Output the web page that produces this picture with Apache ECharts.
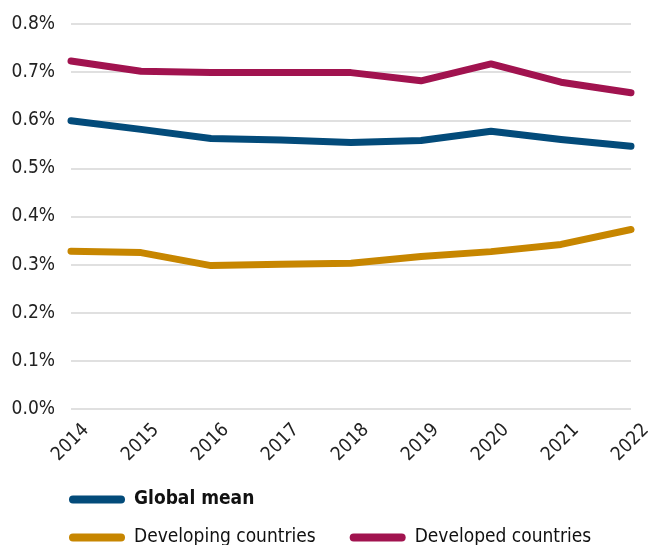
<!DOCTYPE html>
<html>
<head>
<meta charset="utf-8">
<script src="https://cdn.jsdelivr.net/npm/echarts@6/dist/echarts.min.js"></script>
<style>
  html, body { margin: 0; padding: 0; background: #ffffff; }
  #chart { width: 648px; height: 545px; }
</style>
</head>
<body>
<div id="chart"></div>
<script>
// Years on the horizontal axis
const years = ['2014', '2015', '2016', '2017', '2018', '2019', '2020', '2021', '2022'];

// Shares in percent
const globalMean = [0.599, 0.581, 0.562, 0.559, 0.554, 0.558, 0.577, 0.560, 0.546];
const developing = [0.328, 0.325, 0.298, 0.301, 0.303, 0.317, 0.327, 0.342, 0.373];
const developed  = [0.723, 0.702, 0.699, 0.699, 0.699, 0.682, 0.717, 0.679, 0.657];

const FONT = '"Liberation Sans Narrow", "DejaVu Sans Condensed", "Roboto Condensed", sans-serif';
const pill = 'path://M4,0 H52 A4,4 0 0 1 52,8 H4 A4,4 0 0 1 4,0 Z';

const colors = { global: '#034b7a', developing: '#c78600', developed: '#a1134f' };

function lineSeries(name, data, color) {
  return {
    name: name,
    type: 'line',
    data: data,
    symbol: 'none',
    smooth: false,
    itemStyle: { color: color },
    lineStyle: { color: color, width: 7, cap: 'round', join: 'round' }
  };
}

const chart = echarts.init(document.getElementById('chart'), null, { renderer: 'canvas' });
chart.setOption({
  animation: false,
  textStyle: { fontFamily: FONT },
  grid: { left: 71, right: 17, top: 24, bottom: 136, containLabel: false, outerBoundsMode: 'none' },
  xAxis: {
    type: 'category',
    data: years,
    boundaryGap: false,
    axisLine: { show: false },
    axisTick: { show: false },
    axisLabel: {
      rotate: 45,
      margin: 33,
      // nudge the slanted years forward and down so they sit under each tick
      padding: [42, -21, 0, 0],
      fontSize: 19,
      color: '#222222',
      fontFamily: FONT,
      hideOverlap: false
    }
  },
  yAxis: {
    type: 'value',
    min: 0,
    max: 0.8,
    interval: 0.1,
    axisLine: { show: false },
    axisTick: { show: false },
    splitLine: { lineStyle: { color: '#d6d6d6', width: 1.5 } },
    axisLabel: {
      margin: 16,
      fontSize: 19,
      color: '#222222',
      fontFamily: FONT,
      formatter: v => v.toFixed(1) + '%'
    }
  },
  legend: [
    {
      data: ['Global mean'],
      left: 64,
      top: 485,
      icon: pill,
      itemWidth: 56,
      itemHeight: 9,
      textStyle: { fontSize: 19, fontWeight: 'bold', color: '#111111', fontFamily: FONT, padding: [0, 0, 0, 4] }
    },
    {
      data: ['Developing countries', 'Developed countries'],
      left: 64,
      top: 523,
      icon: pill,
      itemWidth: 56,
      itemHeight: 9,
      itemGap: 34,
      textStyle: { fontSize: 19, color: '#111111', fontFamily: FONT, padding: [0, 0, 0, 4] }
    }
  ],
  series: [
    lineSeries('Global mean', globalMean, colors.global),
    lineSeries('Developing countries', developing, colors.developing),
    lineSeries('Developed countries', developed, colors.developed)
  ]
});
</script>
</body>
</html>
